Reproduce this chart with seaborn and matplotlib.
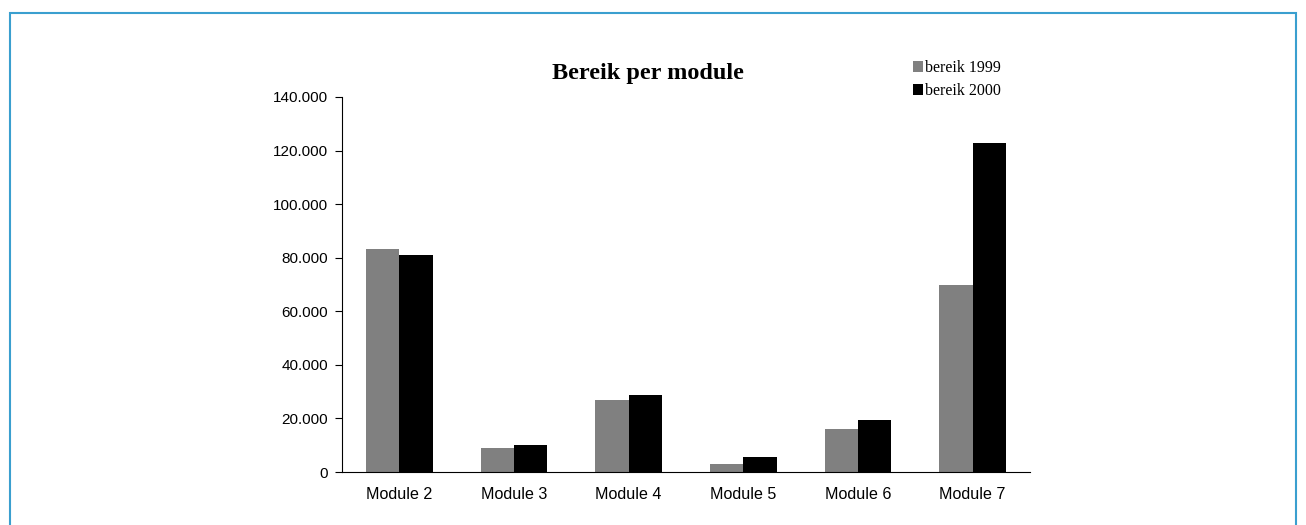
import matplotlib
matplotlib.use("Agg")
import matplotlib.pyplot as plt
import matplotlib.patches as mpatches
from matplotlib.ticker import FixedLocator
import seaborn as sns
import pandas as pd

categories = ["Module 2", "Module 3", "Module 4", "Module 5", "Module 6", "Module 7"]
bereik_1999 = [83300, 8900, 26900, 3100, 16100, 69800]
bereik_2000 = [81000, 10100, 28700, 5600, 19400, 123000]
series_names = ["bereik 1999", "bereik 2000"]
y_ticks = [0, 20000, 40000, 60000, 80000, 100000, 120000, 140000]

df = pd.DataFrame({
    "module": categories * 2,
    "serie": [series_names[0]] * len(categories) + [series_names[1]] * len(categories),
    "bereik": bereik_1999 + bereik_2000,
})

sns.set_style("white")
plt.rcParams["font.family"] = ["Liberation Sans", "DejaVu Sans"]
plt.rcParams["text.color"] = "black"
plt.rcParams["xtick.color"] = "black"
plt.rcParams["ytick.color"] = "black"

fig = plt.figure(figsize=(13.06, 5.25), dpi=100)
ax = fig.add_axes([342 / 1306, 1 - 472 / 525, (1030 - 342) / 1306, (472 - 97) / 525])

colors = {"bereik 1999": "#808080", "bereik 2000": "#000000"}
sns.barplot(data=df, x="module", y="bereik", hue="serie", palette=colors,
            width=0.58, gap=0, saturation=1, ax=ax, legend=False, linewidth=0)

ax.set_xlim(-0.5, len(categories) - 0.5)
ax.set_ylim(0, 140000)
ax.set_yticks(y_ticks)
ax.set_yticklabels([f"{v:,.0f}".replace(",", ".") for v in y_ticks], fontsize=11, color="black")
ax.set_xticks(range(len(categories)))
ax.set_xticklabels(categories, fontsize=11.6, color="black")
ax.xaxis.set_minor_locator(FixedLocator([i - 0.5 for i in range(len(categories) + 1)]))
ax.tick_params(axis="x", which="major", length=0, pad=11)
ax.tick_params(axis="x", which="minor", length=5, width=0.8, color="black", direction="out")
ax.tick_params(axis="y", length=5, width=0.8, color="black", direction="out", left=True, pad=5)
ax.set_xlabel("")
ax.set_ylabel("")
for side in ["top", "right"]:
    ax.spines[side].set_visible(False)
for side in ["left", "bottom"]:
    ax.spines[side].set_color("black")
    ax.spines[side].set_linewidth(0.8)

fig.text(648 / 1306, 1 - 73 / 525, "Bereik per module", ha="center", va="center",
         fontsize=17.5, fontweight="bold", color="black",
         family=["Liberation Serif", "DejaVu Serif"])

handles = [mpatches.Patch(facecolor=colors[s], edgecolor="none", label=s) for s in series_names]
fig.legend(handles=handles, loc="upper left", bbox_to_anchor=(913 / 1306, 1 - 60 / 525),
           frameon=False, prop={"family": ["Liberation Serif", "DejaVu Serif"], "size": 11.5},
           handlelength=0.65, handleheight=0.65, handletextpad=0.1, labelspacing=0.45,
           borderaxespad=0, borderpad=0)

border = mpatches.Rectangle((10 / 1306, -0.05), (1296 - 10) / 1306, 1.05 - 13 / 525,
                            transform=fig.transFigure, fill=False,
                            edgecolor="#3a9fcf", linewidth=1.5)
fig.add_artist(border)

fig.savefig("out.png", dpi=100)
